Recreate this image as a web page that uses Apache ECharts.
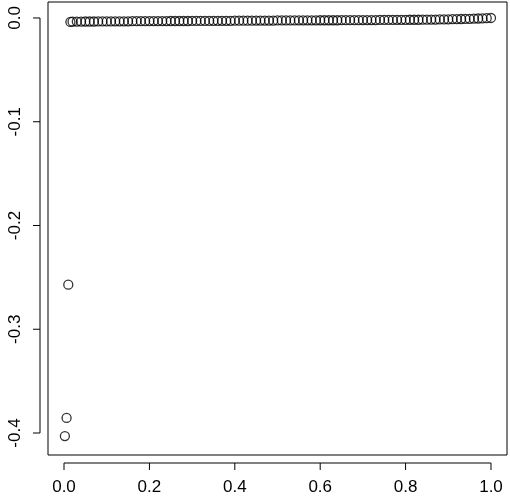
<!DOCTYPE html><html><head><meta charset="utf-8"><script src="https://cdn.jsdelivr.net/npm/echarts@6/dist/echarts.min.js"></script></head><body style="margin:0"><div id="c" style="width:510px;height:504px"></div><script>
const outlierX=[0.002,0.006,0.010];
const outlierY=[-0.4030,-0.3855,-0.2570];
const xs=[0.015,0.02,0.03,0.04,0.05,0.06,0.07,0.08,0.09,0.10,0.11,0.12,0.13,0.14,0.15,0.16,0.17,0.18,0.19,0.20,0.21,0.22,0.23,0.24,0.25,0.26,0.27,0.28,0.29,0.30,0.31,0.32,0.33,0.34,0.35,0.36,0.37,0.38,0.39,0.40,0.41,0.42,0.43,0.44,0.45,0.46,0.47,0.48,0.49,0.50,0.51,0.52,0.53,0.54,0.55,0.56,0.57,0.58,0.59,0.60,0.61,0.62,0.63,0.64,0.65,0.66,0.67,0.68,0.69,0.70,0.71,0.72,0.73,0.74,0.75,0.76,0.77,0.78,0.79,0.80,0.81,0.82,0.83,0.84,0.85,0.86,0.87,0.88,0.89,0.90,0.91,0.92,0.93,0.94,0.95,0.96,0.97,0.98,0.99,1.00];
const ys=[-0.0038,-0.0036,-0.0035,-0.0035,-0.0034,-0.0034,-0.0034,-0.0033,-0.0033,-0.0033,-0.0033,-0.0032,-0.0032,-0.0032,-0.0032,-0.0031,-0.0031,-0.0031,-0.0031,-0.0030,-0.0030,-0.0030,-0.0030,-0.0030,-0.0029,-0.0029,-0.0029,-0.0029,-0.0029,-0.0028,-0.0028,-0.0028,-0.0028,-0.0028,-0.0027,-0.0027,-0.0027,-0.0027,-0.0027,-0.0026,-0.0026,-0.0026,-0.0026,-0.0026,-0.0025,-0.0025,-0.0025,-0.0025,-0.0025,-0.0024,-0.0024,-0.0024,-0.0024,-0.0024,-0.0023,-0.0023,-0.0023,-0.0023,-0.0023,-0.0022,-0.0022,-0.0022,-0.0022,-0.0022,-0.0021,-0.0021,-0.0021,-0.0021,-0.0021,-0.0020,-0.0020,-0.0020,-0.0020,-0.0019,-0.0019,-0.0019,-0.0019,-0.0018,-0.0018,-0.0018,-0.0017,-0.0017,-0.0017,-0.0016,-0.0016,-0.0015,-0.0015,-0.0014,-0.0014,-0.0013,-0.0012,-0.0011,-0.0010,-0.0009,-0.0008,-0.0007,-0.0005,-0.0004,-0.0002,0.0000];
const xTicks=[0,0.2,0.4,0.6,0.8,1.0];
const yTicks=[0,-0.1,-0.2,-0.3,-0.4];
const pts=xs.map((x,i)=>[x,ys[i]]).concat(outlierX.map((x,i)=>[x,outlierY[i]]));
const ch=echarts.init(document.getElementById('c'));
const lbl={color:'#000',fontSize:17,fontFamily:'Liberation Sans, Arial'};
ch.setOption({animation:false,
grid:{left:48,right:3,top:2,bottom:49,show:true,borderColor:'#000',borderWidth:1},
xAxis:{type:'value',min:-0.0375,max:1.0375,offset:8,splitLine:{show:false},
 axisLine:{show:false,onZero:false},axisTick:{show:false},
 axisLabel:Object.assign({customValues:xTicks,formatter:v=>v.toFixed(1),margin:16},lbl)},
yAxis:{type:'value',min:-0.4212,max:0.0154,offset:8,splitLine:{show:false},
 axisLine:{show:false,onZero:false},axisTick:{show:false},
 axisLabel:Object.assign({customValues:yTicks,formatter:v=>v.toFixed(1),rotate:90,margin:16},lbl)},
series:[{type:'scatter',data:pts,symbol:'circle',symbolSize:9,
 itemStyle:{color:'rgba(0,0,0,0)',borderColor:'#000',borderWidth:1.3}}]});
const a=ch.convertToPixel({gridIndex:0},[xTicks[0],yTicks[0]]);
const b=ch.convertToPixel({gridIndex:0},[xTicks[xTicks.length-1],yTicks[yTicks.length-1]]);
const gl=48-8, gb=504-49+8, T=7;
const g=[
 {type:'line',shape:{x1:a[0],y1:gb,x2:b[0],y2:gb},style:{stroke:'#000',lineWidth:1}},
 {type:'line',shape:{x1:gl,y1:a[1],x2:gl,y2:b[1]},style:{stroke:'#000',lineWidth:1}}];
xTicks.forEach(v=>{const p=ch.convertToPixel({gridIndex:0},[v,0]);g.push({type:'line',shape:{x1:p[0],y1:gb,x2:p[0],y2:gb+T},style:{stroke:'#000',lineWidth:1}});});
yTicks.forEach(v=>{const p=ch.convertToPixel({gridIndex:0},[0,v]);g.push({type:'line',shape:{x1:gl,y1:p[1],x2:gl-T,y2:p[1]},style:{stroke:'#000',lineWidth:1}});});
ch.setOption({graphic:g});
</script></body></html>
